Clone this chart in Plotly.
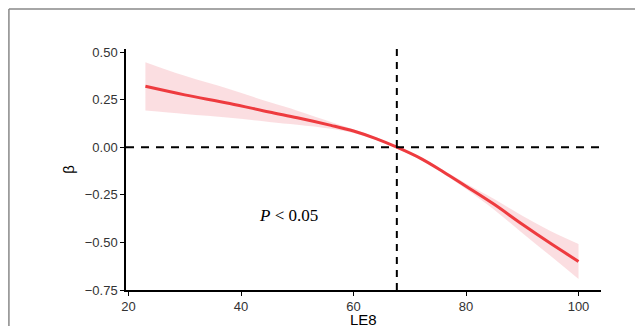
import plotly.graph_objects as go

le8 = [23, 30, 38, 45, 50, 56, 60, 64, 67.7, 72, 76, 80, 85, 90, 95, 100]
beta = [0.32, 0.275, 0.23, 0.185, 0.155, 0.115, 0.085, 0.045, 0.0, -0.06, -0.13, -0.205, -0.30, -0.405, -0.505, -0.60]
ci_half = [0.127, 0.10, 0.075, 0.052, 0.037, 0.018, 0.01, 0.006, 0.005, 0.006, 0.009, 0.015, 0.028, 0.045, 0.065, 0.092]
upper = [b + h for b, h in zip(beta, ci_half)]
lower = [b - h for b, h in zip(beta, ci_half)]

x_ticks = [20, 40, 60, 80, 100]
y_ticks = [0.50, 0.25, 0.00, -0.25, -0.50, -0.75]
y_labels = ["0.50", "0.25", "0.00", "\u22120.25", "\u22120.50", "\u22120.75"]
cutoff = 67.7

fig = go.Figure()
fig.add_trace(go.Scatter(x=le8, y=upper, mode="lines", line=dict(width=0, shape="spline"),
                         showlegend=False, hoverinfo="skip"))
fig.add_trace(go.Scatter(x=le8, y=lower, mode="lines", line=dict(width=0, shape="spline"),
                         fill="tonexty", fillcolor="rgba(248,200,205,0.6)",
                         showlegend=False, hoverinfo="skip"))
fig.add_trace(go.Scatter(x=le8, y=beta, mode="lines",
                         line=dict(color="#EE3B3F", width=3, shape="spline"),
                         showlegend=False))

fig.add_shape(type="line", xref="paper", yref="y", x0=0, x1=1, y0=0, y1=0,
              line=dict(color="black", width=2, dash="8px,7px"))
fig.add_shape(type="line", xref="x", yref="paper", x0=cutoff, x1=cutoff, y0=0, y1=1,
              line=dict(color="black", width=2, dash="7px,6px"))

# frame border of the original figure (top and left)
fig.add_shape(type="line", xref="paper", yref="paper", x0=-0.2465, x1=1.2, y0=1.166, y1=1.166,
              line=dict(color="#888", width=1.5))
fig.add_shape(type="line", xref="paper", yref="paper", x0=-0.2465, x1=-0.2465, y0=-0.3, y1=1.166,
              line=dict(color="#888", width=1.5))

fig.add_annotation(x=48.4, y=-0.36, xref="x", yref="y", showarrow=False,
                   text="<i>P</i> < 0.05",
                   font=dict(family="Liberation Serif, Times New Roman, serif", size=17, color="black"))

# x-axis title placed as an annotation (sits partly at the bottom edge like the reference)
fig.add_annotation(x=0.5, y=-0.077, xref="paper", yref="paper", showarrow=False,
                   xanchor="center", yanchor="top", text="LE8",
                   font=dict(family="Liberation Sans, Arial, sans-serif", size=15, color="black"))

fig.update_xaxes(range=[19.55, 104.0], tickvals=x_ticks, ticks="outside", ticklen=4,
                 tickcolor="black", showline=True, linecolor="black", linewidth=1.5,
                 showgrid=False, zeroline=False, automargin=False,
                 tickfont=dict(family="Liberation Sans, Arial, sans-serif", size=13, color="#333"))
fig.update_yaxes(range=[-0.75, 0.516], tickvals=y_ticks, ticktext=y_labels, ticks="outside", ticklen=4,
                 tickcolor="black", showline=True, linecolor="black", linewidth=1.5,
                 showgrid=False, zeroline=False, automargin=False,
                 tickfont=dict(family="Liberation Sans, Arial, sans-serif", size=13, color="#333"),
                 title=dict(text="β", standoff=6,
                            font=dict(family="Liberation Sans, Arial, sans-serif", size=15, color="black")))

fig.update_layout(width=643, height=326, margin=dict(l=118, r=50, t=41, b=44),
                  plot_bgcolor="white", paper_bgcolor="white", template="none")

fig.write_html("out.html")
